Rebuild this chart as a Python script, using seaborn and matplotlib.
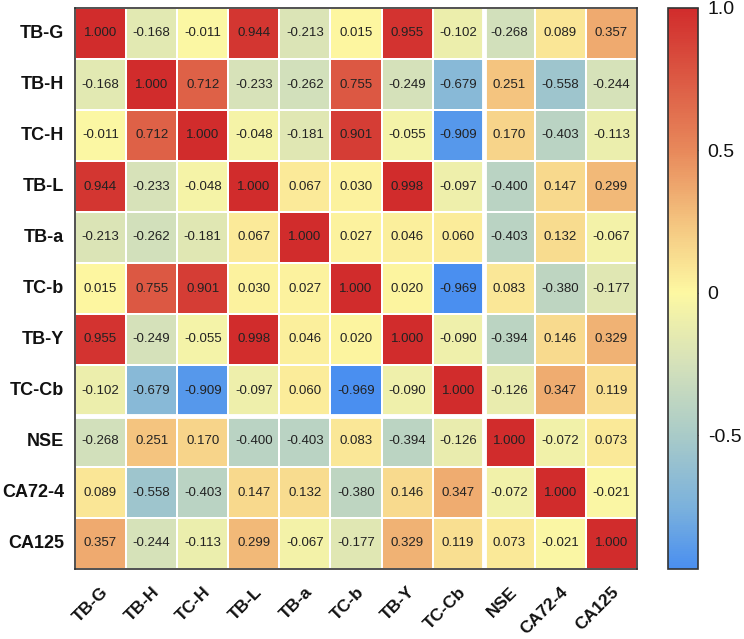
import numpy as np
import pandas as pd
import matplotlib
matplotlib.use("Agg")
import matplotlib.pyplot as plt
import seaborn as sns
from matplotlib.colors import LinearSegmentedColormap

# Variaveis e matriz de correlacao
labels = ["TB-G", "TB-H", "TC-H", "TB-L", "TB-a", "TC-b", "TB-Y", "TC-Cb", "NSE", "CA72-4", "CA125"]

tb_g = [1.000, -0.168, -0.011, 0.944, -0.213, 0.015, 0.955, -0.102, -0.268, 0.089, 0.357]
tb_h = [-0.168, 1.000, 0.712, -0.233, -0.262, 0.755, -0.249, -0.679, 0.251, -0.558, -0.244]
tc_h = [-0.011, 0.712, 1.000, -0.048, -0.181, 0.901, -0.055, -0.909, 0.170, -0.403, -0.113]
tb_l = [0.944, -0.233, -0.048, 1.000, 0.067, 0.030, 0.998, -0.097, -0.400, 0.147, 0.299]
tb_a = [-0.213, -0.262, -0.181, 0.067, 1.000, 0.027, 0.046, 0.060, -0.403, 0.132, -0.067]
tc_b = [0.015, 0.755, 0.901, 0.030, 0.027, 1.000, 0.020, -0.969, 0.083, -0.380, -0.177]
tb_y = [0.955, -0.249, -0.055, 0.998, 0.046, 0.020, 1.000, -0.090, -0.394, 0.146, 0.329]
tc_cb = [-0.102, -0.679, -0.909, -0.097, 0.060, -0.969, -0.090, 1.000, -0.126, 0.347, 0.119]
nse = [-0.268, 0.251, 0.170, -0.400, -0.403, 0.083, -0.394, -0.126, 1.000, -0.072, 0.073]
ca72_4 = [0.089, -0.558, -0.403, 0.147, 0.132, -0.380, 0.146, 0.347, -0.072, 1.000, -0.021]
ca125 = [0.357, -0.244, -0.113, 0.299, -0.067, -0.177, 0.329, 0.119, 0.073, -0.021, 1.000]

rows = [tb_g, tb_h, tc_h, tb_l, tb_a, tc_b, tb_y, tc_cb, nse, ca72_4, ca125]
df = pd.DataFrame(rows, index=labels, columns=labels)

vmin, vmax = -0.969, 1.0

# Paleta azul -> amarelo -> vermelho
def pos(v):
    return (v - vmin) / (vmax - vmin)

cmap = LinearSegmentedColormap.from_list("corr", [
    (0.0, "#4a8ff0"),
    (pos(-0.75), "#7cb2dc"),
    (pos(-0.5), "#a9cbc8"),
    (pos(-0.25), "#d5e1ba"),
    (pos(0.0), "#fdf8a2"),
    (pos(0.25), "#f4c47f"),
    (pos(0.5), "#e8895b"),
    (pos(0.75), "#dc5a44"),
    (1.0, "#d12c2c"),
])

sns.set_theme(style="white")
plt.rcParams["font.family"] = ["Liberation Sans", "DejaVu Sans"]

fig = plt.figure(figsize=(7.44, 6.39), dpi=100)
ax = fig.add_axes([75 / 744, 70 / 639, 562 / 744, 561 / 639])
cax = fig.add_axes([668 / 744, 70 / 639, 30 / 744, 561 / 639])

sns.heatmap(df, ax=ax, cbar_ax=cax, cmap=cmap, vmin=vmin, vmax=vmax,
            annot=True, fmt=".3f", annot_kws={"fontsize": 9.5, "color": "#222222"},
            linewidths=1.1, linecolor="white")

# separacao extra entre TC-Cb e NSE
ax.axvline(8, color="white", lw=3.5)
ax.axhline(8, color="white", lw=3.5)

for sp in ax.spines.values():
    sp.set_visible(True)
    sp.set_color("#333333")
    sp.set_linewidth(1.2)

ax.tick_params(axis="y", length=0, pad=8)
ax.tick_params(axis="x", length=0, pad=11)
ax.set_yticklabels(labels, rotation=0, fontsize=13, fontweight="bold", color="#111111")
ax.set_xticklabels(labels, rotation=45, ha="right", rotation_mode="anchor",
                   fontsize=12.5, fontweight="bold", color="#111111")
ax.set_xlabel("")
ax.set_ylabel("")

cbar = ax.collections[0].colorbar
cbar.set_ticks([1.0, 0.5, 0, -0.5])
cbar.set_ticklabels(["1.0", "0.5", "0", "-0.5"])
cbar.outline.set_edgecolor("#333333")
cbar.outline.set_linewidth(1.2)
cax.tick_params(direction="in", left=True, right=True, length=4, width=0.8,
                labelsize=14, colors="#333333", labelcolor="#111111", pad=7)

fig.savefig("out.png", dpi=100, facecolor="white")
